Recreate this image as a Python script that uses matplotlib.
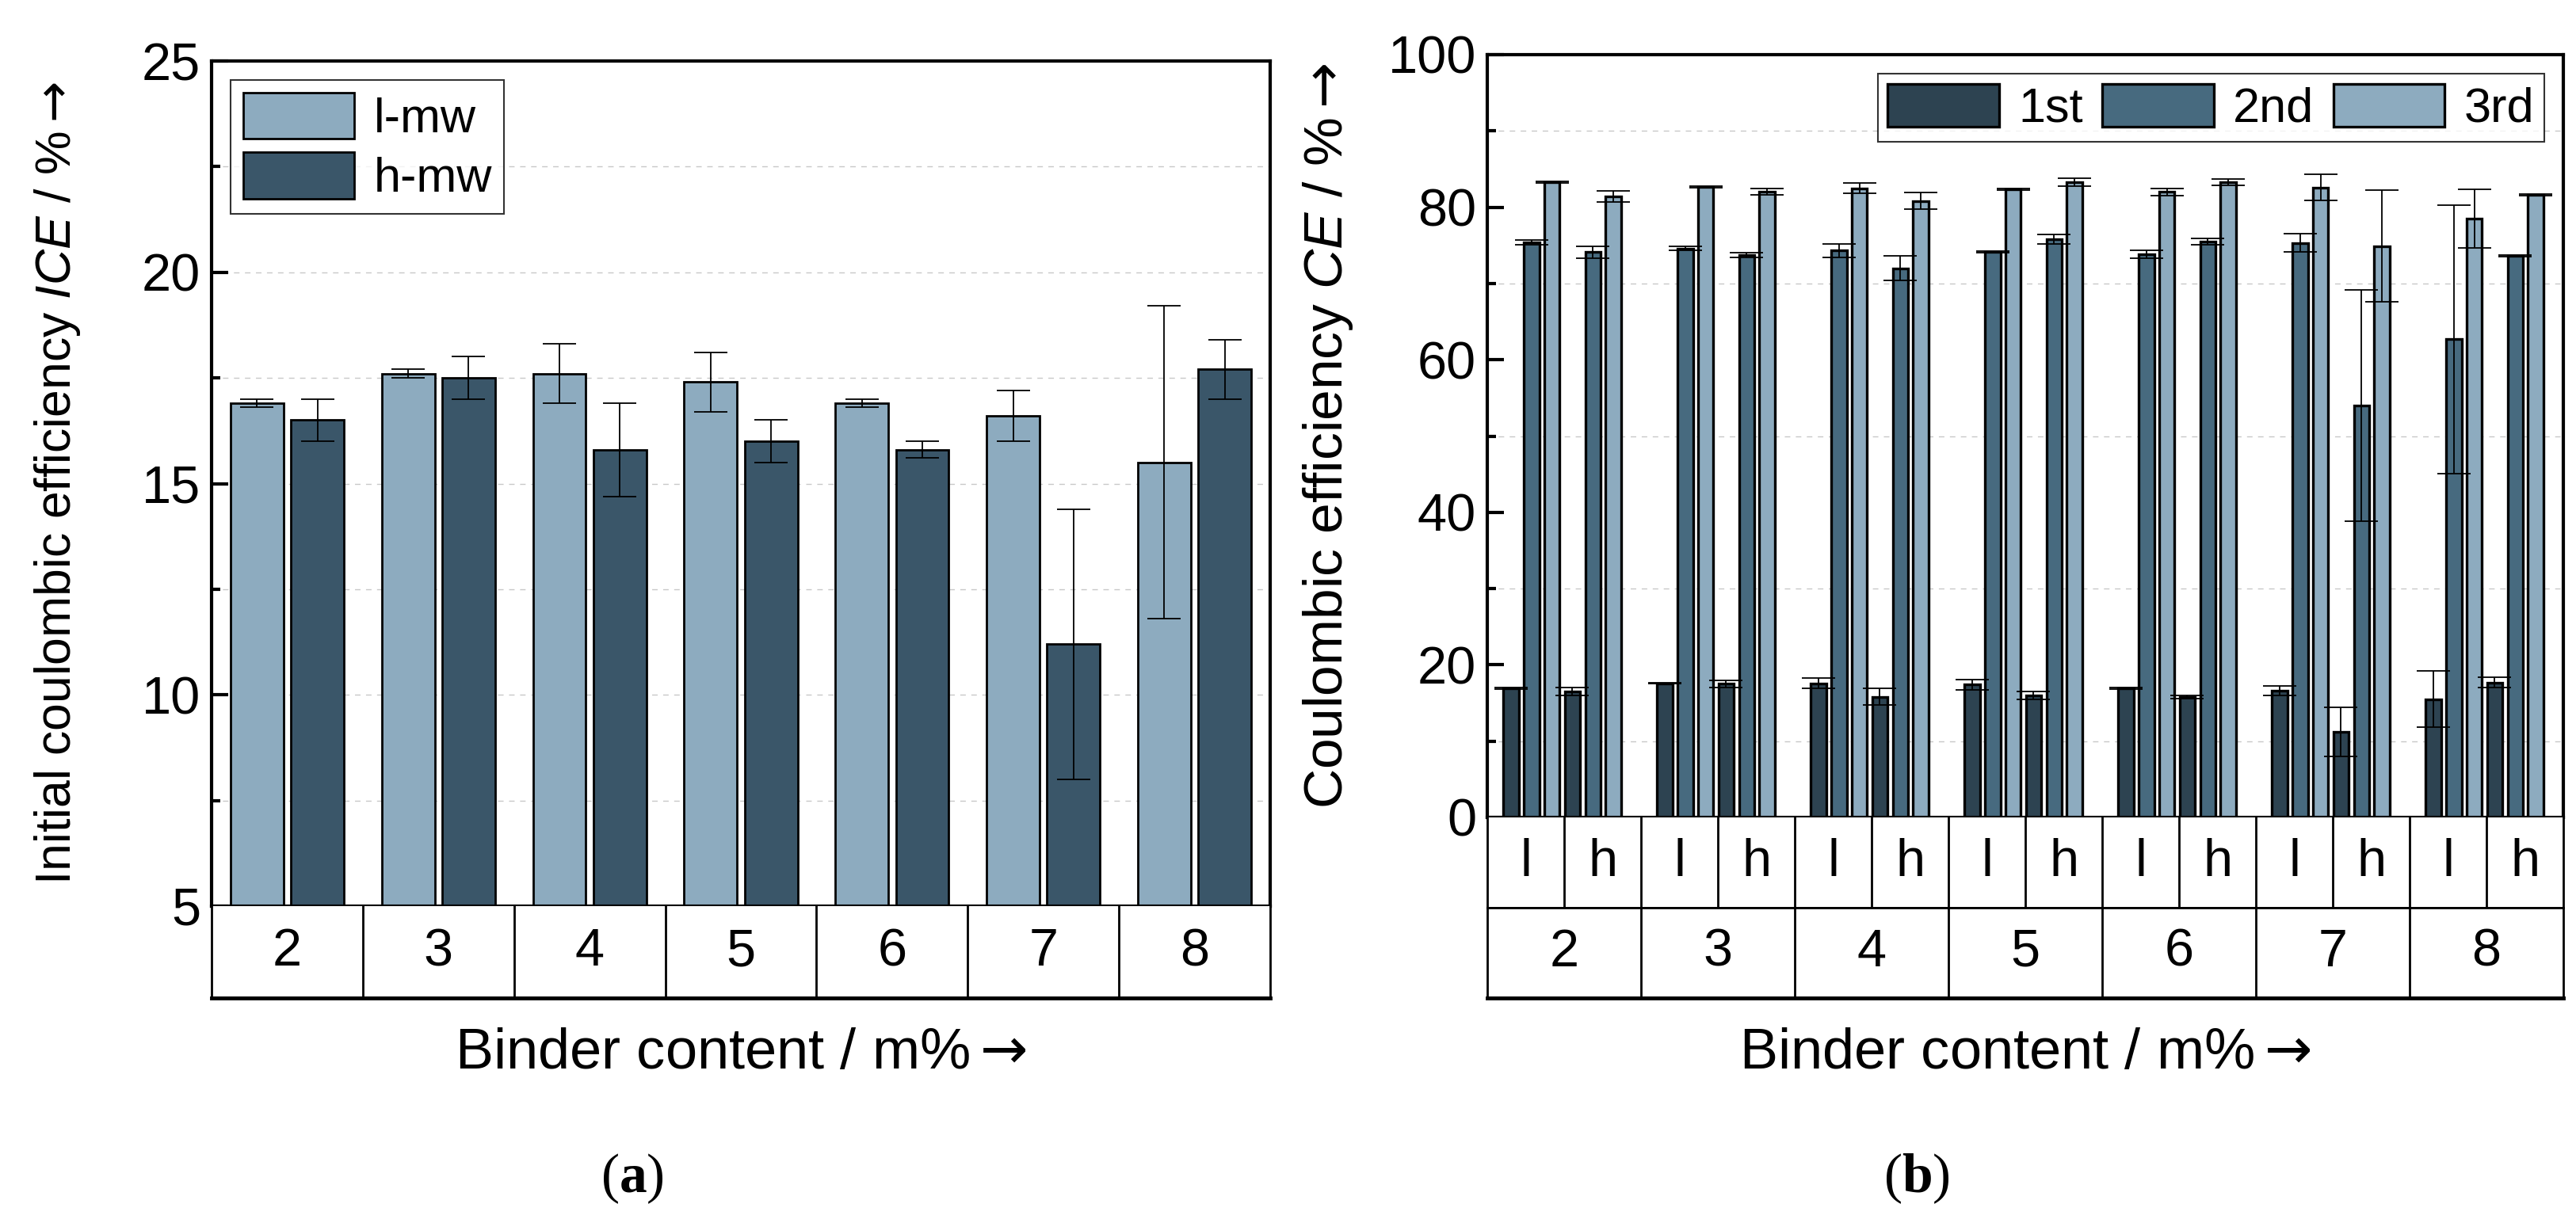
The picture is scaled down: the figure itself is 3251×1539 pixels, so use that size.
import numpy as np
import matplotlib
matplotlib.use("Agg")
import matplotlib.pyplot as plt

plt.rcParams['font.family'] = ['Liberation Sans', 'DejaVu Sans']
plt.rcParams['mathtext.fontset'] = 'custom'
plt.rcParams['mathtext.rm'] = 'Liberation Sans'
plt.rcParams['mathtext.it'] = 'Liberation Sans:italic'
plt.rcParams['mathtext.sf'] = 'DejaVu Sans'
plt.rcParams['mathtext.tt'] = 'Liberation Serif'
plt.rcParams['mathtext.bf'] = 'Liberation Serif:bold'

# binder content groups
binder = ['2', '3', '4', '5', '6', '7', '8']

# (a) initial coulombic efficiency, %
ice_l = [16.9, 17.6, 17.6, 17.4, 16.9, 16.6, 15.5]
ice_l_err = [0.1, 0.1, 0.7, 0.7, 0.1, 0.6, 3.7]
ice_h = [16.5, 17.5, 15.8, 16.0, 15.8, 11.2, 17.7]
ice_h_err = [0.5, 0.5, 1.1, 0.5, 0.2, 3.2, 0.7]

# (b) coulombic efficiency of cycles 1-3, %  (l-mw then h-mw)
ce1_l = ice_l
ce1_l_err = ice_l_err
ce1_h = ice_h
ce1_h_err = ice_h_err
ce2_l = [75.4, 74.6, 74.3, 74.1, 73.8, 75.3, 62.7]
ce2_l_err = [0.3, 0.3, 0.9, 0.1, 0.5, 1.2, 17.6]
ce2_h = [74.1, 73.7, 72.0, 75.8, 75.5, 54.0, 73.6]
ce2_h_err = [0.8, 0.3, 1.6, 0.6, 0.4, 15.2, 0.1]
ce3_l = [83.3, 82.7, 82.5, 82.3, 82.0, 82.6, 78.5]
ce3_l_err = [0.1, 0.1, 0.7, 0.1, 0.5, 1.7, 3.8]
ce3_h = [81.4, 82.0, 80.8, 83.3, 83.3, 74.9, 81.6]
ce3_h_err = [0.7, 0.4, 1.1, 0.5, 0.4, 7.3, 0.1]

c_light = '#8DABBF'
c_dark = '#3A5669'
c_1st = '#2D4351'
c_2nd = '#476A7F'
c_3rd = '#8DABBF'

W, H = 3251, 1539
fig = plt.figure(figsize=(W / 100, H / 100), dpi=100)

fs_tick = 48
fs_lab = 52
fs_leg = 44
arrow = '$\\mathsf{\\rightarrow}$'
ekw = dict(ecolor='k', elinewidth=1.3, capsize=15, capthick=1.3)
x = np.arange(len(binder))


def style_main(ax):
    for s in ax.spines.values():
        s.set_linewidth(3)
    ax.tick_params(axis='y', which='major', direction='in', length=15,
                   width=3, labelsize=fs_tick, pad=10)
    ax.tick_params(axis='y', which='minor', direction='in', length=8, width=3)
    ax.tick_params(axis='x', which='both', bottom=False, labelbottom=False)
    ax.set_xlim(-0.5, len(binder) - 0.5)
    ax.set_axisbelow(True)


def box_row(ax, labels, pos, edges, bottom_lw=2):
    ax.set_xlim(-0.5, len(binder) - 0.5)
    ax.set_ylim(0, 1)
    ax.set_xticks([])
    ax.set_yticks([])
    for s in ax.spines.values():
        s.set_linewidth(2)
    ax.spines['top'].set_visible(False)
    ax.spines['bottom'].set_linewidth(bottom_lw)
    for e in edges:
        ax.axvline(e, color='k', lw=2)
    for p, t in zip(pos, labels):
        ax.text(p, 0.5, t, ha='center', va='center', fontsize=fs_tick)


# ---- (a)
ax = fig.add_axes([267 / W, 1 - 1144 / H, (1603 - 267) / W, (1144 - 77) / H])
ax.bar(x - 0.2, ice_l, 0.35, yerr=ice_l_err, color=c_light, edgecolor='k',
       linewidth=2, error_kw=ekw, label='l-mw')
ax.bar(x + 0.2, ice_h, 0.35, yerr=ice_h_err, color=c_dark, edgecolor='k',
       linewidth=2, error_kw=ekw, label='h-mw')
ax.set_ylim(5, 25)
ax.set_yticks([5, 10, 15, 20, 25])
ax.set_yticks(np.arange(7.5, 25, 5), minor=True)
ax.yaxis.grid(True, which='both', ls=(0, (5, 5)), color='#c8c8c8', lw=1)
style_main(ax)
ax.set_ylabel('Initial coulombic efficiency $\\mathit{ICE}$ / %' + arrow,
              fontsize=45)
ax.yaxis.set_label_coords(-0.122, 0.5)
leg = ax.legend(loc='upper left', fontsize=fs_leg, frameon=True,
                fancybox=False, edgecolor='k', handlelength=2.3,
                handleheight=1.1, handletextpad=0.4, labelspacing=0.2,
                borderpad=0.25, borderaxespad=0.4)
leg.get_frame().set_linewidth(1.5)

box = fig.add_axes([267 / W, 1 - 1260 / H, (1603 - 267) / W, 116 / H])
box_row(box, binder, x, x[:-1] + 0.5, bottom_lw=3.5)

fig.text((267 + 1603) / 2 / W, 1 - 1331 / H, 'Binder content / m%' + arrow,
         ha='center', va='center', fontsize=fs_lab)
fig.text(798 / W, 1 - 1488 / H, '$\\mathtt{(}\\mathbf{a}\\mathtt{)}$',
         ha='center', va='center', fontsize=50)

# ---- (b)
L, R = 1877, 3235
bx = fig.add_axes([L / W, 1 - 1032 / H, (R - L) / W, (1032 - 69) / H])
step = 0.133
off = -0.345 + step * np.arange(6)
bw = 0.1
bkw = dict(edgecolor='k', linewidth=2.4, error_kw=ekw)
bx.bar(x + off[0], ce1_l, bw, yerr=ce1_l_err, color=c_1st, label='1st', **bkw)
bx.bar(x + off[1], ce2_l, bw, yerr=ce2_l_err, color=c_2nd, label='2nd', **bkw)
bx.bar(x + off[2], ce3_l, bw, yerr=ce3_l_err, color=c_3rd, label='3rd', **bkw)
bx.bar(x + off[3], ce1_h, bw, yerr=ce1_h_err, color=c_1st, **bkw)
bx.bar(x + off[4], ce2_h, bw, yerr=ce2_h_err, color=c_2nd, **bkw)
bx.bar(x + off[5], ce3_h, bw, yerr=ce3_h_err, color=c_3rd, **bkw)
bx.set_ylim(0, 100)
bx.set_yticks(np.arange(0, 101, 20))
bx.set_yticks(np.arange(10, 100, 20), minor=True)
bx.yaxis.grid(True, which='minor', ls=(0, (5, 5)), color='#c8c8c8', lw=1)
style_main(bx)
bx.set_ylabel('Coulombic efficiency $\\mathit{CE}$ / %' + arrow,
              fontsize=50)
bx.yaxis.set_label_coords(-0.123, 0.5)
leg = bx.legend(loc='upper right', ncol=3, fontsize=fs_leg, frameon=True,
                fancybox=False, edgecolor='k', handlelength=2.3,
                handleheight=1.0, handletextpad=0.4, columnspacing=0.4,
                borderpad=0.2, borderaxespad=0.4)
leg.get_frame().set_linewidth(1.5)

lh = fig.add_axes([L / W, 1 - 1146 / H, (R - L) / W, 114 / H])
lh_pos = np.ravel([[g - 0.25, g + 0.25] for g in x])
lh_lab = ['l', 'h'] * len(binder)
box_row(lh, lh_lab, lh_pos, np.arange(0, 6.1, 0.5))
nb = fig.add_axes([L / W, 1 - 1260 / H, (R - L) / W, 114 / H])
box_row(nb, binder, x, x[:-1] + 0.5, bottom_lw=3.5)
nb.spines['top'].set_visible(True)

fig.text((L + R) / 2 / W, 1 - 1331 / H, 'Binder content / m%' + arrow,
         ha='center', va='center', fontsize=fs_lab)
fig.text(2419 / W, 1 - 1488 / H, '$\\mathtt{(}\\mathbf{b}\\mathtt{)}$',
         ha='center', va='center', fontsize=50)

fig.savefig('out.png', dpi=100)
